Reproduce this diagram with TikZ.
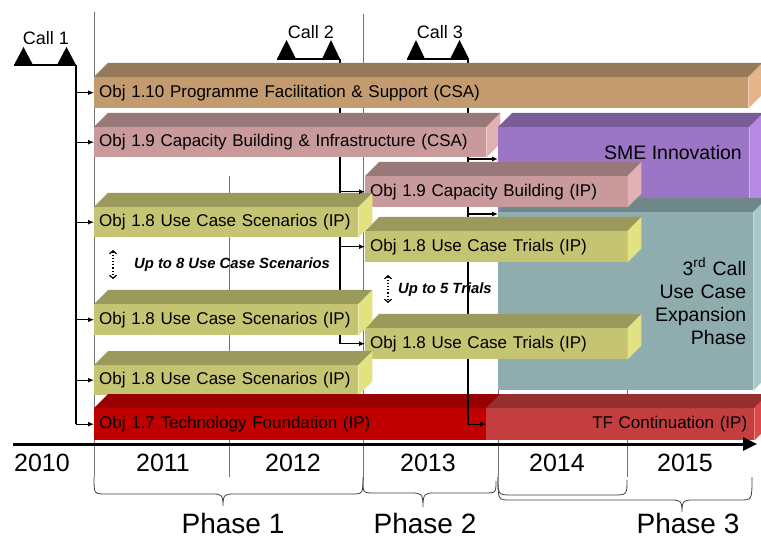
\documentclass[tikz,border=0pt]{standalone}
\usepackage{fontspec}
\setmainfont{Liberation Sans}
\usetikzlibrary{arrows.meta,backgrounds}
\definecolor{tanF}{HTML}{C49B6F}\definecolor{tanT}{HTML}{957A5C}\definecolor{tanS}{HTML}{E5B58A}
\definecolor{pinkF}{HTML}{C89A9B}\definecolor{pinkT}{HTML}{987878}\definecolor{pinkS}{HTML}{E2B2B2}
\definecolor{purpF}{HTML}{9C76C6}\definecolor{purpT}{HTML}{7A5C98}\definecolor{purpS}{HTML}{B68AE2}
\definecolor{tealF}{HTML}{8FADAF}\definecolor{tealT}{HTML}{6F8789}\definecolor{tealS}{HTML}{A9C8CA}
\definecolor{oliveF}{HTML}{C4C473}\definecolor{oliveT}{HTML}{9A9A5C}\definecolor{oliveS}{HTML}{E2E283}
\definecolor{redF}{HTML}{C00000}\definecolor{redT}{HTML}{990000}\definecolor{redS}{HTML}{E00000}
\definecolor{tfF}{HTML}{C43E40}\definecolor{tfT}{HTML}{963030}\definecolor{tfS}{HTML}{E04848}
\newcommand{\barfont}{\fontsize{17}{20}\selectfont}
\newcommand{\bigboxfont}{\fontsize{19.5}{23}\selectfont}
\newcommand{\tdbar}[8]{%
  \pgfmathsetmacro{\bw}{#4-#2}\pgfmathsetmacro{\bh}{#5-#3}\pgfmathsetmacro{\tw}{#4-#2-10}%
  \node[barface, fill=#6F, minimum width=\bw pt, minimum height=\bh pt, text width=\tw pt, #7] (#1) at (#2,#3) {#8};
  \fill[#6T] (#1.north west) -- ++(14,-14) -- ([shift={(14,-14)}]#1.north east) -- (#1.north east) -- cycle;
  \fill[#6S] (#1.north east) -- ++(14,-14) -- ([shift={(14,-14)}]#1.south east) -- (#1.south east) -- cycle;
}
\newcommand{\phbrace}[6]{%
  \draw[brace] (#1,#3) .. controls (#1,#4) and (#1,#4) .. (#1+12,#4) -- (#5-12,#4)
    .. controls (#5-2,#4) and (#5,#4) .. (#5,#6) .. controls (#5,#4) and (#5+2,#4) .. (#5+12,#4)
    -- (#2-12,#4) .. controls (#2,#4) and (#2,#4) .. (#2,#3);}
\begin{document}
\begin{tikzpicture}[x=1pt,y=-1pt,
  barface/.style={anchor=north west, inner xsep=5pt, inner ysep=0pt, font=\barfont, text=black, align=left},
  arr/.style={-{Latex[length=6pt,width=5pt]}, line width=1.1pt},
  callline/.style={line width=1.8pt},
  dotarr/.style={{Straight Barb[length=3pt,width=7pt]}-{Straight Barb[length=3pt,width=7pt]}, dotted, line width=1.2pt},
  brace/.style={line width=0.8pt, draw=black!75},
  divl/.style={line width=0.8pt, draw=black!55},
  yearlbl/.style={font=\fontsize{25}{28}\selectfont, anchor=base},
  phaselbl/.style={font=\fontsize{28}{32}\selectfont, anchor=base, inner sep=0pt},
  calllbl/.style={font=\fontsize{18}{20}\selectfont, anchor=base},
  note/.style={font=\fontsize{14.8}{17}\selectfont\bfseries\itshape, anchor=west, inner sep=0pt}]
\useasboundingbox (0,0) rectangle (761,540);
% year divider lines
\draw[divl] (94,12) -- (94,477);
\draw[divl] (363,14) -- (363,481);
\draw[divl] (229,176) -- (229,477);
\draw[divl] (498,200) -- (498,477);
\draw[divl] (627,200) -- (627,477);
% braces
\phbrace{94}{363}{477}{494}{223}{506}
\phbrace{363}{496}{481}{493}{423}{507}
\draw[brace] (498,477) .. controls (498,495) and (498,495) .. (512,495) -- (613,495) .. controls (627,495) and (627,495) .. (627,480);
\phbrace{498}{752}{477}{500}{682}{512}
% call markers
\coordinate (c1) at (76,65);
\coordinate (c2) at (340,59);
\coordinate (c3) at (468,59);
\coordinate (c3r) at (468,392);
\fill (14,65) -- (33,65) -- (23.5,47) -- cycle;
\fill (57,65) -- (76,65) -- (66.5,47) -- cycle;
\draw[callline] (14,65) -- (c1);
\fill (277,59) -- (296,59) -- (286.5,40) -- cycle;
\fill (322,59) -- (340,59) -- (331,40) -- cycle;
\draw[callline] (277,59) -- (c2);
\fill (407,59) -- (425,59) -- (416,40) -- cycle;
\fill (450,59) -- (469,59) -- (459.5,40) -- cycle;
\draw[callline] (407,59) -- (c3);
\node[calllbl] (call1) at (46,45) {Call 1};
\node[calllbl] (call2) at (311,39) {Call 2};
\node[calllbl] (call3) at (440,39) {Call 3};
% bars
\tdbar{b110}{94}{77}{748}{108}{tan}{}{Obj 1.10 Programme Facilitation \& Support (CSA)}
\tdbar{b19csa}{94}{127}{486}{157}{pink}{}{Obj 1.9 Capacity Building \& Infrastructure (CSA)}
\tdbar{sme}{498}{127}{749}{212}{purp}{}{}
\node[font=\bigboxfont, anchor=east, inner sep=0pt] (smet) at (742,153) {SME Innovation};
\tdbar{third}{498}{212}{749}{390}{teal}{align=right, inner xsep=7pt, font=\bigboxfont}{3\textsuperscript{rd} Call\\Use Case\\Expansion\\Phase}
\coordinate (p3a) at (468,159);
\coordinate (p3b) at (468,214);
\tdbar{b19ip}{365}{176}{627}{207}{pink}{}{Obj 1.9 Capacity Building (IP)}
\tdbar{tr1}{365}{231}{627}{262}{olive}{}{Obj 1.8 Use Case Trials (IP)}
\tdbar{tr2}{365}{328}{627}{359}{olive}{}{Obj 1.8 Use Case Trials (IP)}
\tdbar{sc1}{94}{207}{358}{237}{olive}{}{Obj 1.8 Use Case Scenarios (IP)}
\tdbar{sc2}{94}{304}{358}{335}{olive}{}{Obj 1.8 Use Case Scenarios (IP)}
\tdbar{sc3}{94}{365}{358}{395}{olive}{}{Obj 1.8 Use Case Scenarios (IP)}
\tdbar{t17}{94}{408}{500}{440}{red}{}{Obj 1.7 Technology Foundation (IP)}
\tdbar{tfc}{486}{408}{750}{440}{tf}{align=right, inner xsep=7pt}{TF Continuation (IP)}
% call connectors: vertical trunks behind the bars
\begin{scope}[on background layer]
\draw[callline] (c2) -- (c2 |- tr2.west);
\draw[callline] (c3) -- (c3r);
\end{scope}
\draw[callline] (c3r) -- (c3 |- tfc.west);
\draw[callline] (c1) -- (c1 |- t17.west);
\draw[arr] (c1 |- t17.west) -- (t17.west);
\foreach \b in {b110,b19csa,sc1,sc2,sc3} \draw[arr] (c1 |- \b.west) -- (\b.west);
\draw[arr] (c2 |- b19ip.west) -- (b19ip.west);
\draw[arr] (c2 |- tr1.west) -- (tr1.west);
\draw[arr] (c2 |- tr2.west) -- (tr2.west);
\draw[arr] (p3a) -- (p3a -| sme.west);
\draw[arr] (p3b) -- (p3b -| third.west);
\draw[arr] (c3 |- tfc.west) -- (tfc.west);
% notes
\coordinate (d1a) at (113,250); \coordinate (d1b) at (113,279);
\draw[dotarr] (d1a) -- (d1b);
\node[note] (n1) at (134,265) {Up to 8 Use Case Scenarios};
\coordinate (d2a) at (388,275); \coordinate (d2b) at (388,303);
\draw[dotarr] (d2a) -- (d2b);
\node[note] (n2) at (398,290) {Up to 5 Trials};
% axis
\coordinate (ax0) at (13,444); \coordinate (ax1) at (757,444);
\draw[line width=3pt, -{Triangle[length=14pt,width=13pt]}] (ax0) -- (ax1);
\node[yearlbl] (y10) at (42,471) {2010};
\node[yearlbl] (y11) at (163,471) {2011};
\node[yearlbl] (y12) at (293,471) {2012};
\node[yearlbl] (y13) at (428,471) {2013};
\node[yearlbl] (y14) at (557,471) {2014};
\node[yearlbl] (y15) at (685,471) {2015};
\node[phaselbl] (ph1) at (233,533) {Phase 1};
\node[phaselbl] (ph2) at (425,533) {Phase 2};
\node[phaselbl] (ph3) at (688,533) {Phase 3};
\end{tikzpicture}
\end{document}
